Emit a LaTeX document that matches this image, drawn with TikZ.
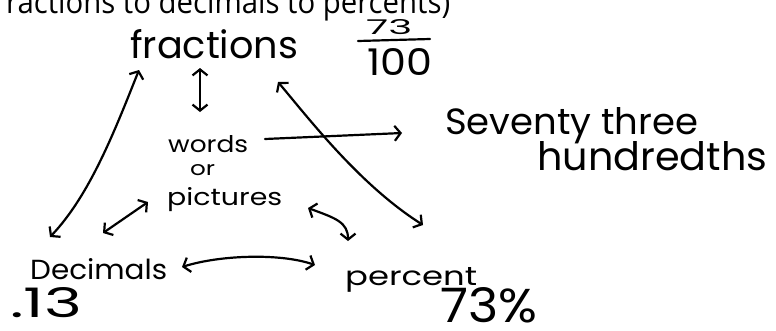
\documentclass[tikz,border=0pt]{standalone}
\usepackage{fontspec}
\setmainfont{Poppins}
\newfontfamily\titlefont{Open Sans}
\usetikzlibrary{arrows.meta}
\newcommand\fitwh[3]{\resizebox{#1}{#2}{#3}}
\tikzset{
  hand/.style={inner sep=0pt, anchor=base west, font=\fontsize{30}{30}\selectfont},
  conn/.style={line width=2.2pt, line cap=round, line join=round},
  onearr/.style={conn, -{Straight Barb[length=6pt,width=15pt,line width=2.2pt]}},
  twoarr/.style={conn, {Straight Barb[length=6pt,width=15pt,line width=2.2pt]}-{Straight Barb[length=6pt,width=15pt,line width=2.2pt]}}
}
\begin{document}
\begin{tikzpicture}[x=1pt,y=-1pt]
\useasboundingbox (0,0) rectangle (776,330);
\fill[white] (0,0) rectangle (776,330);
\clip (0,0) rectangle (776,330);
% texts
\node[hand] (title) at (6,13) {\titlefont\fitwh{444pt}{24pt}{ractions to decimals to percents)}};
\node[hand] (frac) at (130,58) {\fitwh{168pt}{29pt}{fractions}};
\node[hand] (num) at (366,34) {\fitwh{46pt}{15pt}{73}};
\node[hand] (den) at (367,75) {\fitwh{65pt}{27pt}{100}};
\node[hand] (seventy) at (445,134) {\fitwh{253pt}{27pt}{Seventy three}};
\node[hand] (hund) at (537,170) {\fitwh{230pt}{29pt}{hundredths}};
\node[hand] (words) at (168,152) {\fitwh{80pt}{17pt}{words}};
\node[hand] (or) at (190,175) {\fitwh{25pt}{11pt}{or}};
\node[hand] (pict) at (167,205) {\fitwh{115pt}{18pt}{pictures}};
\node[hand] (dec) at (30,279) {\fitwh{137pt}{21pt}{Decimals}};
\node[hand] (decval) at (10,317) {\fitwh{72pt}{30pt}{.13}};
\node[hand] (perc) at (345,285) {\fitwh{132pt}{18pt}{percent}};
\node[hand] (percval) at (440,322) {\fitwh{97pt}{35pt}{73\%}};
% fraction bar
\coordinate (barL) at (358,41);
\coordinate (barR) at (430,39);
\draw[conn] (barL) -- (barR);
% connector end points
\coordinate (fA) at (139,70);
\coordinate (dA) at (50,237);
\coordinate (fB) at (200,68);
\coordinate (wB) at (200,112);
\coordinate (fC) at (278,82);
\coordinate (pC) at (423,225);
\coordinate (wD) at (265,139);
\coordinate (sD) at (402,133);
\coordinate (dE) at (103,233);
\coordinate (pE) at (148,202);
\coordinate (pF) at (308,208);
\coordinate (cF) at (348,241);
\coordinate (dG) at (182,267);
\coordinate (cG) at (315,265);
% connectors
\draw[twoarr] (fA) .. controls (115,130) and (90,195) .. (dA);
\draw[twoarr] (fB) -- (wB);
\draw[twoarr] (fC) .. controls (310,120) and (360,185) .. (pC);
\draw[onearr] (wD) -- (sD);
\draw[twoarr] (dE) -- (pE);
\draw[twoarr] (pF) .. controls (335,218) and (348,222) .. (cF);
\draw[twoarr] (dG) .. controls (220,255) and (280,253) .. (cG);
\end{tikzpicture}
\end{document}
